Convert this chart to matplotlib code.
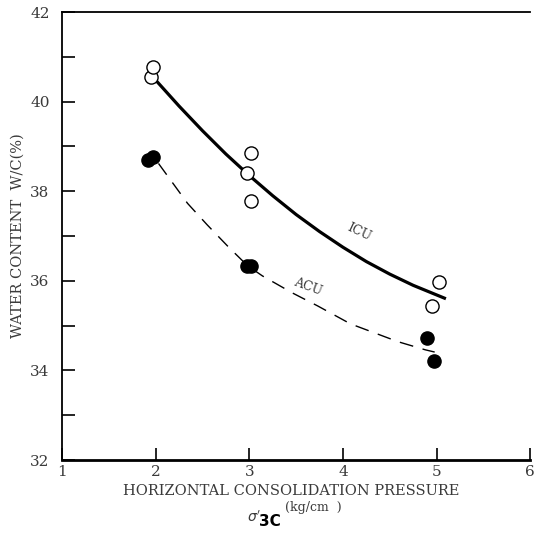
import matplotlib.pyplot as plt
import numpy as np

# open circles (ICU) and filled circles (ACU)
icu_x = [1.95, 1.97, 2.97, 3.02, 3.02, 4.95, 5.03]
icu_y = [40.55, 40.78, 38.40, 38.85, 37.78, 35.44, 35.97]
acu_x = [1.92, 1.97, 2.97, 3.02, 4.90, 4.97]
acu_y = [38.70, 38.77, 36.33, 36.33, 34.72, 34.21]

# curves
icu_curve_x = [1.97, 2.25, 2.5, 2.75, 3.0, 3.25, 3.5, 3.75, 4.0, 4.25, 4.5, 4.75, 5.1]
icu_curve_y = [40.55, 39.90, 39.35, 38.83, 38.35, 37.90, 37.48, 37.10, 36.75, 36.43, 36.15, 35.90, 35.60]
acu_curve_x = [2.03, 2.34, 2.55, 2.78, 2.98, 3.14, 3.46, 3.73, 4.08, 4.59, 4.88, 4.98]
acu_curve_y = [38.62, 37.73, 37.25, 36.75, 36.34, 36.11, 35.73, 35.44, 35.04, 34.64, 34.46, 34.41]

x_ticks = [1, 2, 3, 4, 5, 6]
y_ticks = [32, 34, 36, 38, 40, 42]

txt = '#3a3a3a'
fig = plt.figure(figsize=(5.35, 5.47), dpi=100)
ax = fig.add_axes([0.116, 0.159, 0.875, 0.819])

ax.plot(icu_curve_x, icu_curve_y, color='black', lw=2.3, solid_capstyle='butt')
ax.plot(acu_curve_x, acu_curve_y, color='black', lw=1.0, linestyle=(0, (10, 7)))
ax.scatter(icu_x, icu_y, s=90, facecolors='white', edgecolors='black', linewidths=1.0, zorder=3)
ax.scatter(acu_x, acu_y, s=90, color='black', zorder=3)

ax.text(4.17, 37.08, 'ICU', rotation=-25, fontsize=9, family='DejaVu Serif', color=txt,
        ha='center', va='center')
ax.text(3.63, 35.86, 'ACU', rotation=-20, fontsize=9, family='DejaVu Serif', color=txt,
        ha='center', va='center')

ax.set_xlim(1, 6)
ax.set_ylim(32, 42)
ax.set_xticks(x_ticks)
ax.set_yticks(y_ticks)
ax.set_yticks(np.arange(33, 42, 2), minor=True)
ax.tick_params(direction='in', length=9, width=1.2, labelsize=11, labelcolor=txt)
ax.tick_params(axis='y', pad=9)
ax.tick_params(which='minor', direction='in', length=9, width=1.2)
for lab in ax.get_xticklabels() + ax.get_yticklabels():
    lab.set_family('DejaVu Serif')

ax.spines['right'].set_visible(False)
ax.spines['bottom'].set_linewidth(2)
ax.spines['left'].set_linewidth(1.3)
ax.spines['top'].set_linewidth(1.3)

ax.set_ylabel('WATER CONTENT  W/C(%)', fontsize=10.5, family='DejaVu Serif', color=txt, labelpad=4)
fig.text(0.545, 0.095, 'HORIZONTAL CONSOLIDATION PRESSURE', ha='center', fontsize=10.5,
         family='DejaVu Serif', color=txt)
fig.text(0.475, 0.045, r"$\sigma'$", ha='center', fontsize=10, color=txt)
fig.text(0.505, 0.038, '3C', ha='center', fontsize=11, weight='bold', family='DejaVu Sans', color='black')
fig.text(0.585, 0.065, '(kg/cm  )', ha='center', fontsize=9, family='DejaVu Serif', color=txt)

fig.savefig('out.png', dpi=100)
